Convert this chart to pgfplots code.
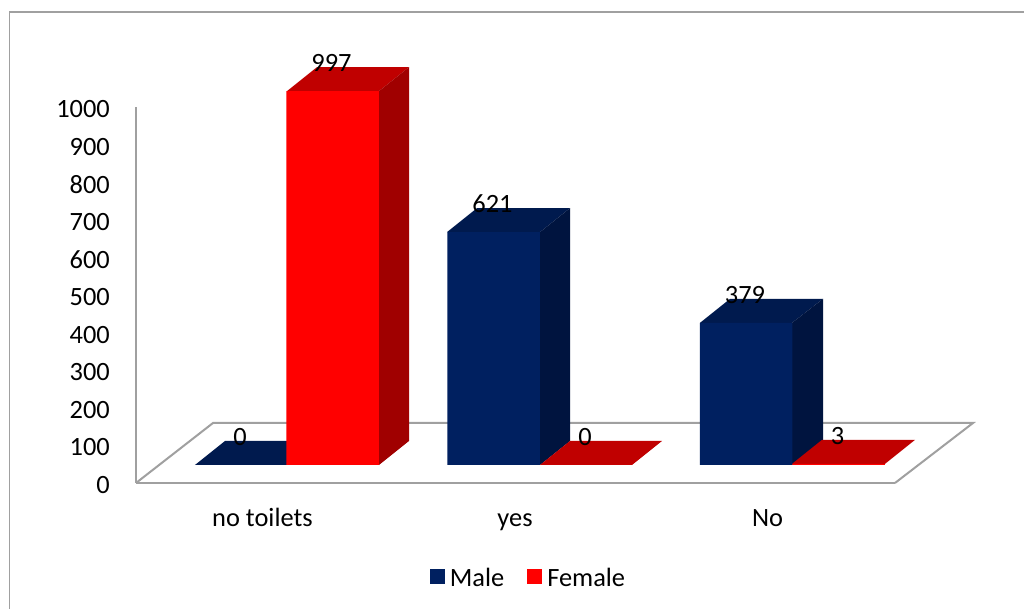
\documentclass[border=0pt]{standalone}
\usepackage{pgfplots}
\usepackage{fontspec}
\setmainfont{Carlito}
\pgfplotsset{compat=1.18}
\definecolor{navyfront}{HTML}{002060}
\definecolor{navytop}{HTML}{001A4E}
\definecolor{navyside}{HTML}{00143F}
\definecolor{redfront}{HTML}{FF0000}
\definecolor{redtop}{HTML}{C00000}
\definecolor{redside}{HTML}{A00000}
\definecolor{frameline}{HTML}{A0A0A0}
\newcommand{\chartfont}{\fontsize{26.5}{26.5}\selectfont}
\begin{document}
\begin{tikzpicture}[x=1bp,y=1bp]
\useasboundingbox (0,0) rectangle (1024,609);
\fill[white] (0,0) rectangle (1024,609);
\draw[frameline,line width=1.5bp] (9.5,-2) -- (9.5,597) -- (1026,597);

% Value scale: left wall and front edge of the floor
\begin{axis}[
  at={(136bp,126bp)}, anchor=origin,
  scale only axis, width=759bp, height=376bp,
  xmin=136, xmax=895, ymin=0, ymax=1000,
  axis lines=left, axis line style={frameline,line width=2bp,-},
  ytick={0,100,...,1000},
  xtick={262.5,515,767.5},
  xticklabels={no toilets,yes,No},
  major tick length=0pt,
  /pgf/number format/assume math mode=true,
  /pgf/number format/1000 sep={},
  tick label style={font=\chartfont,text=black},
  yticklabel style={inner sep=0pt,xshift=-26bp,yshift=-2bp},
  xticklabel style={inner sep=0pt,yshift=-37bp,text height=0.68em,text depth=0.02em},
]
\end{axis}

% Bars: the y scale starts at the foot of the bars, on the floor
\begin{axis}[
  at={(0,0)}, anchor=south west,
  scale only axis, width=1024bp, height=609bp,
  xmin=0, xmax=1024, ymin=-384, ymax=1240,
  hide axis, clip=false,
  legend style={
    at={(530bp,31bp)}, anchor=center, draw=none, fill=none,
    legend columns=2, inner sep=0pt,
    font=\chartfont,
    /tikz/every even column/.style={column sep=18bp},
    nodes={inner xsep=5bp,inner ysep=0pt},
  },
]
% Floor outline
\addplot[forget plot,frameline,line width=2bp,no marks]
  coordinates {(136,-48) (213,112) (973,112) (895,-48)};

% Top and side faces, 30 across and 64 back from each front face
\addplot[forget plot,navytop,fill=navytop,draw=none,no marks]
  coordinates {(195,0) (225,64) (317,64) (287,0)} -- cycle;

\addplot[forget plot,redtop,fill=redtop,draw=none,no marks]
  coordinates {(287,997) (317,1061) (409,1061) (379,997)} -- cycle;
\addplot[forget plot,redside,fill=redside,draw=none,no marks]
  coordinates {(379,0) (409,64) (409,1061) (379,997)} -- cycle;

\addplot[forget plot,navytop,fill=navytop,draw=none,no marks]
  coordinates {(447,621) (477,685) (570,685) (540,621)} -- cycle;
\addplot[forget plot,navyside,fill=navyside,draw=none,no marks]
  coordinates {(540,0) (570,64) (570,685) (540,621)} -- cycle;
\addplot[forget plot,redtop,fill=redtop,draw=none,no marks]
  coordinates {(540,0) (570,64) (662,64) (632,0)} -- cycle;

\addplot[forget plot,navytop,fill=navytop,draw=none,no marks]
  coordinates {(700,379) (730,443) (823,443) (792,379)} -- cycle;
\addplot[forget plot,navyside,fill=navyside,draw=none,no marks]
  coordinates {(792,0) (823,64) (823,443) (792,379)} -- cycle;
\addplot[forget plot,redtop,fill=redtop,draw=none,no marks]
  coordinates {(792,3) (822,67) (915,67) (885,3)} -- cycle;

% Front faces with their values
\addplot[ybar,bar width=92.5bp,bar shift=0pt,fill=navyfront,draw=none,
  area legend,
  legend image code/.code={\fill[navyfront] (0bp,-6bp) rectangle (15bp,9bp);},
  nodes near coords,
  every node near coord/.style={anchor=center,yshift=28bp,xshift=-1bp,
    font=\chartfont,text=black,inner sep=0pt},
  /pgf/number format/assume math mode=true]
  coordinates {(241,0) (493.5,621) (746,379)};
\addplot[ybar,bar width=92.5bp,bar shift=0pt,fill=redfront,draw=none,
  area legend,
  legend image code/.code={\fill[redfront] (0bp,-6bp) rectangle (15bp,9bp);},
  nodes near coords,
  every node near coord/.style={anchor=center,yshift=28bp,xshift=-1bp,
    font=\chartfont,text=black,inner sep=0pt},
  /pgf/number format/assume math mode=true]
  coordinates {(332.5,997) (586,0) (838.5,3)};
\legend{Male,Female}
\end{axis}
\end{tikzpicture}
\end{document}
